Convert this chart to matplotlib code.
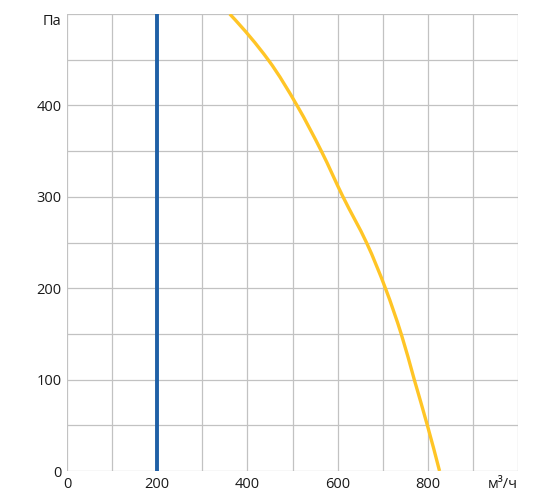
import matplotlib.pyplot as plt
from matplotlib.path import Path
from matplotlib.patches import PathPatch

# fan curve: airflow (m3/h) vs pressure (Pa)
airflow = [361, 446, 510, 564, 612, 664, 706, 741, 770, 799, 826]
pressure = [500, 450, 400, 350, 300, 250, 200, 150, 100, 50, 0]

# system line
system_x = [200, 200]
system_y = [0, 500]

x_ticks = [0, 200, 400, 600, 800, 1000]
x_labels = ["0", "200", "400", "600", "800", "м³/ч"]
y_ticks = [0, 100, 200, 300, 400, 500]
y_labels = ["0", "100", "200", "300", "400", "Па"]


def smooth_path(xs, ys):
    """Catmull-Rom through the points, written as cubic bezier segments"""
    pts = list(zip(xs, ys))
    # phantom end points, extrapolated so the ends keep their bend
    first = tuple(3 * a - 3 * b + c for a, b, c in zip(pts[0], pts[1], pts[2]))
    last = tuple(3 * a - 3 * b + c for a, b, c in zip(pts[-1], pts[-2], pts[-3]))
    ext = [first] + pts + [last]
    verts = [pts[0]]
    codes = [Path.MOVETO]
    for i in range(1, len(ext) - 2):
        p0, p1, p2, p3 = ext[i - 1], ext[i], ext[i + 1], ext[i + 2]
        c1 = (p1[0] + (p2[0] - p0[0]) / 6, p1[1] + (p2[1] - p0[1]) / 6)
        c2 = (p2[0] - (p3[0] - p1[0]) / 6, p2[1] - (p3[1] - p1[1]) / 6)
        verts += [c1, c2, p2]
        codes += [Path.CURVE4] * 3
    return Path(verts, codes)


plt.rcParams['font.family'] = ['Open Sans', 'DejaVu Sans']

fig = plt.figure(figsize=(5.47, 5.03), dpi=100)
ax = fig.add_axes([0.1225, 0.0636, 0.8245, 0.9084])

ax.set_xlim(0, 1000)
ax.set_ylim(0, 500)

ax.set_xticks(range(0, 1001, 100), minor=True)
ax.set_yticks(range(0, 501, 50), minor=True)
ax.grid(True, which='both', color='#c2c2c2', linewidth=0.9)
ax.set_axisbelow(True)

ax.plot(system_x, system_y, color='#1f60a6', linewidth=2.8, solid_capstyle='butt')
ax.add_patch(PathPatch(smooth_path(airflow, pressure), facecolor='none',
                       edgecolor='#ffc526', linewidth=2.4, clip_on=True))

ax.set_xticks(x_ticks)
ax.set_xticklabels(x_labels, fontsize=10.5, color='#1a1a1a')
ax.set_yticks(y_ticks)
ax.set_yticklabels(y_labels, fontsize=10.5, color='#1a1a1a')
ax.tick_params(which='both', length=0, pad=4)

# units sit inside the axis range, like the original
ax.get_xticklabels()[-1].set_ha('right')
ax.get_yticklabels()[-1].set_va('top')

for s in ax.spines.values():
    s.set_visible(False)

fig.savefig("out.png", dpi=100)
